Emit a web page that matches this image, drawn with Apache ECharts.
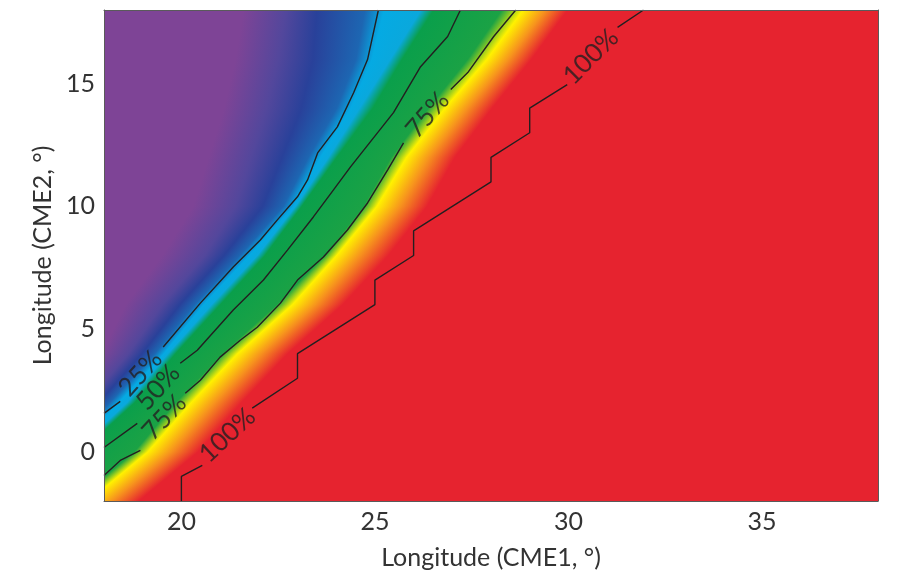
<!DOCTYPE html>
<html>
<head>
<meta charset="utf-8">
<script src="https://cdn.jsdelivr.net/npm/echarts@6/dist/echarts.min.js"></script>
<style>
  html, body { margin: 0; padding: 0; background: #ffffff; }
  #chart { width: 909px; height: 577px; }
</style>
</head>
<body>
<div id="chart"></div>
<script>
// Axis extents and tick labels
const X_MIN = 18, X_MAX = 38;
const Y_MIN = -2, Y_MAX = 18;
const xTickValues = [20, 25, 30, 35];
const yTickValues = [0, 5, 10, 15];

// Probability field: for each row of CME2 longitude, the CME1 longitude
// at which each colour stop of the scale is reached.
const fieldRows = [-2, 0, 2, 4, 6, 8, 10, 12, 14, 16, 18];
const stopPurple  = [14.70, 15.86, 16.96, 17.93, 18.56, 19.50, 20.30, 20.70, 21.10, 21.40, 21.60];
const stopIndigo  = [15.30, 16.41, 17.56, 18.63, 19.51, 20.60, 21.40, 21.80, 22.20, 22.50, 22.70];
const stopNavy    = [15.50, 16.66, 17.86, 18.98, 19.96, 21.10, 22.10, 22.60, 23.10, 23.40, 23.50];
const stopBlue    = [15.78, 16.94, 18.14, 19.31, 20.34, 21.51, 22.63, 23.28, 24.01, 24.51, 24.74];
const stopCyan    = [16.02, 17.18, 18.38, 19.55, 20.58, 21.76, 22.90, 23.60, 24.38, 24.93, 25.24];
const stopCyanEnd = [16.07, 17.23, 18.59, 19.65, 20.78, 21.96, 22.95, 23.80, 24.60, 25.40, 26.19];
const stopGreen   = [16.15, 17.40, 18.79, 19.85, 21.01, 22.16, 23.11, 24.02, 24.95, 25.71, 26.52];
const stopGreenEnd= [17.25, 18.78, 19.85, 21.05, 22.47, 23.70, 24.70, 25.42, 26.38, 27.40, 28.28];
const stopYellow  = [17.60, 19.13, 20.25, 21.45, 22.87, 24.01, 25.05, 25.82, 26.81, 27.90, 28.83];
const stopOrange  = [18.20, 19.73, 20.85, 22.05, 23.47, 24.60, 25.65, 26.40, 27.38, 28.45, 29.40];
const stopRed     = [18.90, 20.43, 21.55, 22.75, 24.17, 25.35, 26.35, 27.07, 28.03, 29.05, 29.98];

// Contour lines (null marks the gap left for the inline label)
const contour25 = [[18,1.57],[18.42,2.06],null,[19.53,4.27],[20.49,6.06],[21.34,7.53],[22.04,8.63],[22.48,9.45],[23.0,10.39],[23.26,11.08],[23.52,12.18],[24.03,13.24],[24.45,14.63],[24.81,15.98],[25.09,18]];
const contour50 = [[18,0.18],[18.86,1.16],null,[19.97,3.61],[20.41,4.14],[21.34,5.78],[22.12,7.0],[22.74,8.22],[23.41,9.57],[23.93,10.67],[24.37,11.61],[25.48,13.82],[26.18,15.69],[26.88,16.92],[27.21,18]];
const contour75 = [[18,-0.96],[18.42,-0.35],[18.94,0.06],null,[20.1,2.39],[20.49,2.92],[21.0,3.86],[21.52,4.55],[21.96,5.08],[22.56,6.06],[23.0,7.0],[23.67,7.94],[24.29,9.04],[24.81,10.14],[25.33,11.49],[25.74,12.59],null,[26.96,14.76],[27.4,15.45],[28.07,16.92],[28.64,18]];
const contour100 = [[20,-2],[20,-1],[20.54,-0.55],null,[21.83,1.78],[23,3],[23,4],[25,6],[25,7],[26,8],[26,9],[28,11],[28,12],[29,13],[29,14],[29.97,14.96],null,[31.27,17.29],[31.94,18]];

// Inline contour labels
const contourLabels = ['25%', '50%', '75%', '100%', '75%', '100%'];
const labelAnchors = [[18.94,3.2],[19.40,2.63],[19.56,1.41],[21.19,0.68],[26.36,13.73],[30.58,16.1]];

// ---- styling ----
const FONT = 'Lato';
const TEXT = '#333333';
const LINE = '#231f20';
const labelAngles = [48, 48, 47, 43, 49, 45];

const colorBands = [
  { xs: stopPurple,   color: '#7e4496' },
  { xs: stopIndigo,   color: '#53479c' },
  { xs: stopNavy,     color: '#29419a' },
  { xs: stopBlue,     color: '#1d66b2' },
  { xs: stopCyan,     color: '#05aae3' },
  { xs: stopCyanEnd,  color: '#0aa8dc' },
  { xs: stopGreen,    color: '#0a9f4b' },
  { xs: stopGreenEnd, color: '#1ba245' },
  { xs: stopYellow,   color: '#fff100' },
  { xs: stopOrange,   color: '#f7941d' },
  { xs: stopRed,      color: '#e6232f' }
];

// Paint the field one pixel row at a time with a horizontal gradient
function renderField(params, api) {
  const tl = api.coord([X_MIN, Y_MAX]);
  const br = api.coord([X_MAX, Y_MIN]);
  const top = Math.round(tl[1]);
  const bottom = Math.round(br[1]);
  const children = [];
  for (let py = top; py < bottom; py++) {
    const yVal = Y_MAX - (py + 0.5 - tl[1]) / (br[1] - tl[1]) * (Y_MAX - Y_MIN);
    let i = 0;
    while (i < fieldRows.length - 2 && yVal > fieldRows[i + 1]) i++;
    const t = (yVal - fieldRows[i]) / (fieldRows[i + 1] - fieldRows[i]);
    const pxs = colorBands.map(b => api.coord([b.xs[i] + t * (b.xs[i + 1] - b.xs[i]), yVal])[0]);
    const g0 = pxs[0], g1 = pxs[pxs.length - 1];
    const stops = colorBands.map((b, k) => ({ offset: Math.min(1, Math.max(0, (pxs[k] - g0) / (g1 - g0))), color: b.color }));
    children.push({
      type: 'rect',
      shape: { x: tl[0], y: py, width: br[0] - tl[0], height: 1 },
      style: { fill: new echarts.graphic.LinearGradient(g0, 0, g1, 0, stops, true) },
      silent: true
    });
  }
  return { type: 'group', children };
}

function toLineData(points) {
  return points.map(p => (p === null ? ['-', '-'] : p));
}

function contourSeries(points) {
  return {
    type: 'line',
    data: toLineData(points),
    showSymbol: false,
    symbol: 'none',
    connectNulls: false,
    lineStyle: { color: LINE, width: 1.4 },
    silent: true,
    animation: false,
    z: 5
  };
}

const chart = echarts.init(document.getElementById('chart'), null, { renderer: 'canvas' });

const frameAxis = {
  type: 'value',
  axisLine: { show: true, onZero: false, lineStyle: { color: '#5a5a5a', width: 1 } },
  axisTick: { show: false },
  axisLabel: { show: false },
  splitLine: { show: false },
  z: 10
};

chart.setOption({
  animation: false,
  backgroundColor: '#ffffff',
  textStyle: { fontFamily: FONT },
  grid: { left: 104, right: 31, top: 10, bottom: 76 },
  xAxis: [
    {
      type: 'value', min: X_MIN, max: X_MAX,
      position: 'bottom',
      name: 'Longitude (CME1, °)',
      nameLocation: 'middle',
      nameGap: 44,
      nameTextStyle: { fontFamily: FONT, fontSize: 25, color: TEXT },
      axisLine: { show: true, onZero: false, lineStyle: { color: '#5a5a5a', width: 1 } },
      axisTick: { show: false },
      splitLine: { show: false },
      axisLabel: {
        margin: 8, fontFamily: FONT, fontSize: 25, color: TEXT,
        showMinLabel: false, showMaxLabel: false,
        formatter: v => (xTickValues.indexOf(v) >= 0 ? String(v) : '')
      },
      z: 10
    },
    Object.assign({ min: X_MIN, max: X_MAX, position: 'top' }, frameAxis)
  ],
  yAxis: [
    {
      type: 'value', min: Y_MIN, max: Y_MAX,
      position: 'left',
      name: 'Longitude (CME2, °)',
      nameLocation: 'middle',
      nameGap: 42,
      nameTextStyle: { fontFamily: FONT, fontSize: 25, color: TEXT },
      axisLine: { show: true, onZero: false, lineStyle: { color: '#5a5a5a', width: 1 } },
      axisTick: { show: false },
      splitLine: { show: false },
      axisLabel: {
        margin: 9, fontFamily: FONT, fontSize: 25, color: TEXT,
        showMinLabel: false, showMaxLabel: false,
        formatter: v => (yTickValues.indexOf(v) >= 0 ? String(v) : '')
      },
      z: 10
    },
    Object.assign({ min: Y_MIN, max: Y_MAX, position: 'right' }, frameAxis)
  ],
  series: [
    {
      type: 'custom',
      renderItem: renderField,
      data: [[X_MIN, Y_MIN]],
      silent: true,
      animation: false,
      z: 1
    },
    contourSeries(contour25),
    contourSeries(contour50),
    contourSeries(contour75),
    contourSeries(contour100),
    {
      type: 'scatter',
      symbolSize: 0,
      silent: true,
      animation: false,
      z: 6,
      data: contourLabels.map((txt, k) => ({
        value: labelAnchors[k],
        name: txt,
        label: { rotate: labelAngles[k] }
      })),
      label: {
        show: true,
        position: 'inside',
        formatter: p => p.name,
        fontFamily: FONT,
        fontSize: 26,
        color: LINE
      }
    }
  ]
});
</script>
</body>
</html>
